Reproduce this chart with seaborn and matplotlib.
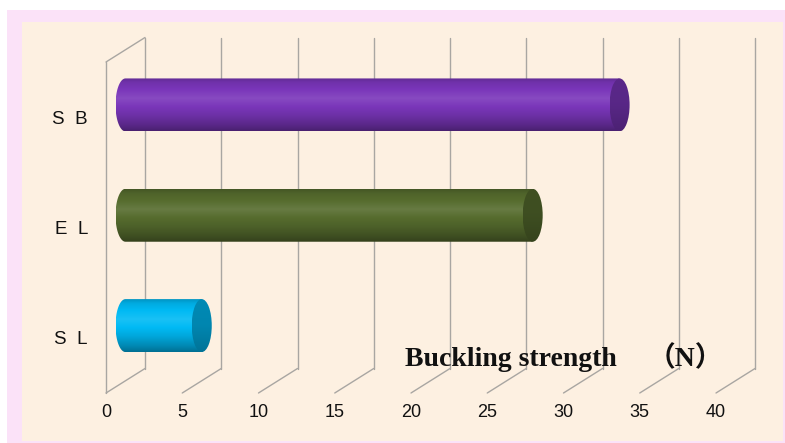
import numpy as np
import pandas as pd
import matplotlib
matplotlib.use('Agg')
import matplotlib.pyplot as plt
from matplotlib.patches import Ellipse, PathPatch, Rectangle
from matplotlib.path import Path
from matplotlib.colors import to_rgb
import seaborn as sns

# ---- data ----
categories = ['S  B', 'E  L', 'S  L']
values = [32.4, 26.7, 5.0]
x_ticks = [0, 5, 10, 15, 20, 25, 30, 35, 40]
axis_title = 'Buckling strength'
axis_unit = '（N）'
body_colors = ['#7A36BA', '#566C2E', '#00BAF4']

# ---- style ----
W, H = 785, 443
peach = '#FDF0E1'
pink = '#FBE2F8'
grid_c = '#A9A6A2'

sns.set_theme(style='white')
plt.rcParams['font.family'] = ['Liberation Sans', 'DejaVu Sans']

fig = plt.figure(figsize=(W / 100, H / 100), dpi=100)
fig.patch.set_facecolor('white')


def fig_rect(x, y_top, w, h, color):
    fig.add_artist(Rectangle((x / W, 1 - (y_top + h) / H), w / W, h / H,
                             transform=fig.transFigure, facecolor=color,
                             edgecolor='none', zorder=-10))


fig_rect(7, 10, 778, 433, pink)
fig_rect(22, 22, 761, 419, peach)

# front plane of the 3D box
fx0, fx1, fy0, fy1 = 106, 716, 62, 393
ax = fig.add_axes([fx0 / W, 1 - fy1 / H, (fx1 - fx0) / W, (fy1 - fy0) / H])
ax.set_facecolor('none')

df = pd.DataFrame({'cat': categories, 'val': values})
sns.barplot(data=df, x='val', y='cat', hue='cat', palette=body_colors,
            orient='h', width=0.48, saturation=1, legend=False, ax=ax)

xmin, xmax = 0, 40
ylo, yhi = len(categories) - 0.5, -0.5
ax.set_xlim(xmin, xmax)
ax.set_ylim(ylo, yhi)
ppx = (fx1 - fx0) / (xmax - xmin)          # px per x unit
ppy = (fy1 - fy0) / (ylo - yhi)            # px per y unit

# depth offsets (px) -> data units
back_dx, back_dy = 39 / ppx, -24.5 / ppy
mid_dx, mid_dy = back_dx / 2, back_dy / 2

# ---- grid of the 3D box ----
lw = 1.0
for k in x_ticks:
    ax.plot([k + back_dx, k + back_dx], [yhi + back_dy, ylo + back_dy],
            color=grid_c, lw=lw, clip_on=False, zorder=1)
    ax.plot([k, k + back_dx], [ylo, ylo + back_dy],
            color=grid_c, lw=lw, clip_on=False, zorder=1)
ax.plot([xmin, xmin], [yhi, ylo], color=grid_c, lw=lw, clip_on=False, zorder=1)
ax.plot([xmin, xmin + back_dx], [yhi, yhi + back_dy], color=grid_c, lw=lw,
        clip_on=False, zorder=1)


def shade(c, f):
    c = np.array(to_rgb(c))
    if f >= 1:
        return c + (1 - c) * (f - 1)
    return c * f


def gradient(c, knots, fac):
    t = np.linspace(0, 1, 120)
    f = np.interp(t, knots, fac)
    return np.array([shade(c, fi) for fi in f])[:, None, :]


body_knots = [0, 0.08, 0.38, 0.7, 0.9, 1.0]
body_fac = [0.8, 0.92, 1.1, 0.9, 0.72, 0.6]
cap_knots = [0, 0.5, 1.0]
cap_fac = [0.74, 0.72, 0.62]

a = 10 / ppx   # horizontal semi-axis of cap ellipse in data units
bars = list(ax.patches)
for patch, col in zip(bars, body_colors):
    x0 = patch.get_x() + mid_dx
    w = patch.get_width()
    y0 = patch.get_y() + mid_dy
    h = patch.get_height()
    yc = y0 + h / 2
    patch.set_visible(False)
    phi = np.linspace(0, np.pi, 60)
    lx = x0 - a * np.sin(phi)
    ly = yc - (h / 2) * np.cos(phi)
    verts = [(x0 + w, y0)] + list(zip(lx, ly)) + [(x0 + w, y0 + h), (x0 + w, y0)]
    codes = [Path.MOVETO] + [Path.LINETO] * (len(verts) - 2) + [Path.CLOSEPOLY]
    body = PathPatch(Path(verts, codes), transform=ax.transData,
                     facecolor='none', edgecolor='none')
    ax.add_patch(body)
    im = ax.imshow(gradient(col, body_knots, body_fac),
                   extent=(x0 - a, x0 + w, y0 + h, y0),
                   aspect='auto', origin='upper', zorder=3,
                   interpolation='bilinear')
    im.set_clip_path(body)
    cap = Ellipse((x0 + w, yc), 2 * a, h, transform=ax.transData,
                  facecolor='none', edgecolor='none')
    ax.add_patch(cap)
    im2 = ax.imshow(gradient(col, cap_knots, cap_fac),
                    extent=(x0 + w - a, x0 + w + a, y0 + h, y0),
                    aspect='auto', origin='upper', zorder=4,
                    interpolation='bilinear')
    im2.set_clip_path(cap)

ax.set_xlim(xmin, xmax)
ax.set_ylim(ylo, yhi)

for s in ax.spines.values():
    s.set_visible(False)
ax.set_xticks(x_ticks)
ax.set_xticklabels([str(v) for v in x_ticks], fontsize=13, color='#111111')
ax.set_yticks(range(len(categories)))
ax.set_yticklabels(categories, fontsize=13.5, color='#111111')
ax.tick_params(axis='x', length=0, pad=8)
ax.tick_params(axis='y', length=0, pad=13)
ax.set_xlabel('')
ax.set_ylabel('')
ax.grid(False)

fig.text(405 / W, 1 - 366 / H, axis_title, family=['Liberation Serif'],
         fontweight='bold', fontsize=20, color='#111111', va='baseline', ha='left',
         zorder=10)
fig.text(648 / W, 1 - 366 / H, axis_unit,
         family=['Liberation Serif', 'Noto Sans CJK JP'],
         fontweight='bold', fontsize=20, color='#111111', va='baseline', ha='left',
         zorder=10)

fig.savefig('out.png', dpi=100, facecolor=fig.get_facecolor())
